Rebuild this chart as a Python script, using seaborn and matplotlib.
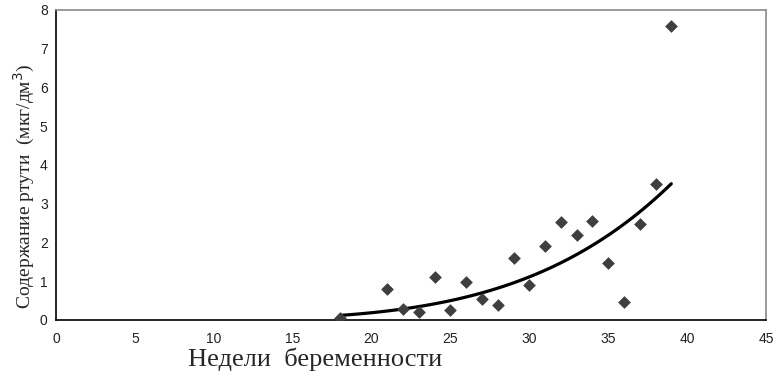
import numpy as np
import pandas as pd
import matplotlib
matplotlib.use("Agg")
import matplotlib.pyplot as plt
import seaborn as sns

weeks = [18, 21, 22, 23, 24, 25, 26, 27, 28, 29, 30, 31, 32, 33, 34, 35, 36, 37, 38, 39]
mercury = [0.05, 0.79, 0.28, 0.20, 1.10, 0.25, 0.98, 0.54, 0.38, 1.59, 0.90, 1.92,
           2.52, 2.19, 2.56, 1.46, 0.46, 2.48, 3.52, 7.59]
x_ticks = [0, 5, 10, 15, 20, 25, 30, 35, 40, 45]
y_ticks = [0, 1, 2, 3, 4, 5, 6, 7, 8]

df = pd.DataFrame({"week": weeks, "hg": mercury})

sns.set_style("white")
fig = plt.figure(figsize=(7.82, 3.83), dpi=100)
ax = fig.add_axes([0.0716, 0.1645, 0.9079, 0.8095])

# power trendline fitted from the data (log-log least squares)
b, lna = np.polyfit(np.log(df["week"]), np.log(df["hg"]), 1)
xs = np.linspace(min(weeks), max(weeks), 60)
trend = pd.DataFrame({"week": xs, "hg": np.exp(lna) * xs ** b})
sns.lineplot(data=trend, x="week", y="hg", ax=ax, color="black", linewidth=2.3)

sns.scatterplot(data=df, x="week", y="hg", ax=ax, marker="D", s=42,
                color="#3f3f3f", edgecolor="#3f3f3f", linewidth=0, zorder=3)

ax.set_xlim(0, 45)
ax.set_ylim(0, 8)
ax.set_xticks(x_ticks)
ax.set_yticks(y_ticks)
ax.tick_params(axis="both", labelsize=10, length=4, width=1, color="black", labelcolor="#222222")
ax.tick_params(axis="y", direction="inout", length=6, pad=3)
ax.tick_params(axis="x", direction="out", pad=5)
for lab in ax.get_xticklabels() + ax.get_yticklabels():
    lab.set_family("Liberation Sans")

for s in ["left", "bottom"]:
    ax.spines[s].set_color("black")
    ax.spines[s].set_linewidth(1.2)
for s in ["top", "right"]:
    ax.spines[s].set_color("#8a8a8a")
    ax.spines[s].set_linewidth(1.2)

ax.set_xlabel("Недели  беременности", family="Liberation Serif", fontsize=19)
ax.set_ylabel("Содержание ртути  (мкг/дм$^3$)", family="Liberation Serif", fontsize=14)
ax.xaxis.set_label_coords(0.365, -0.09)
ax.yaxis.set_label_coords(-0.027, 0.43)

fig.savefig("out.png", dpi=100)
